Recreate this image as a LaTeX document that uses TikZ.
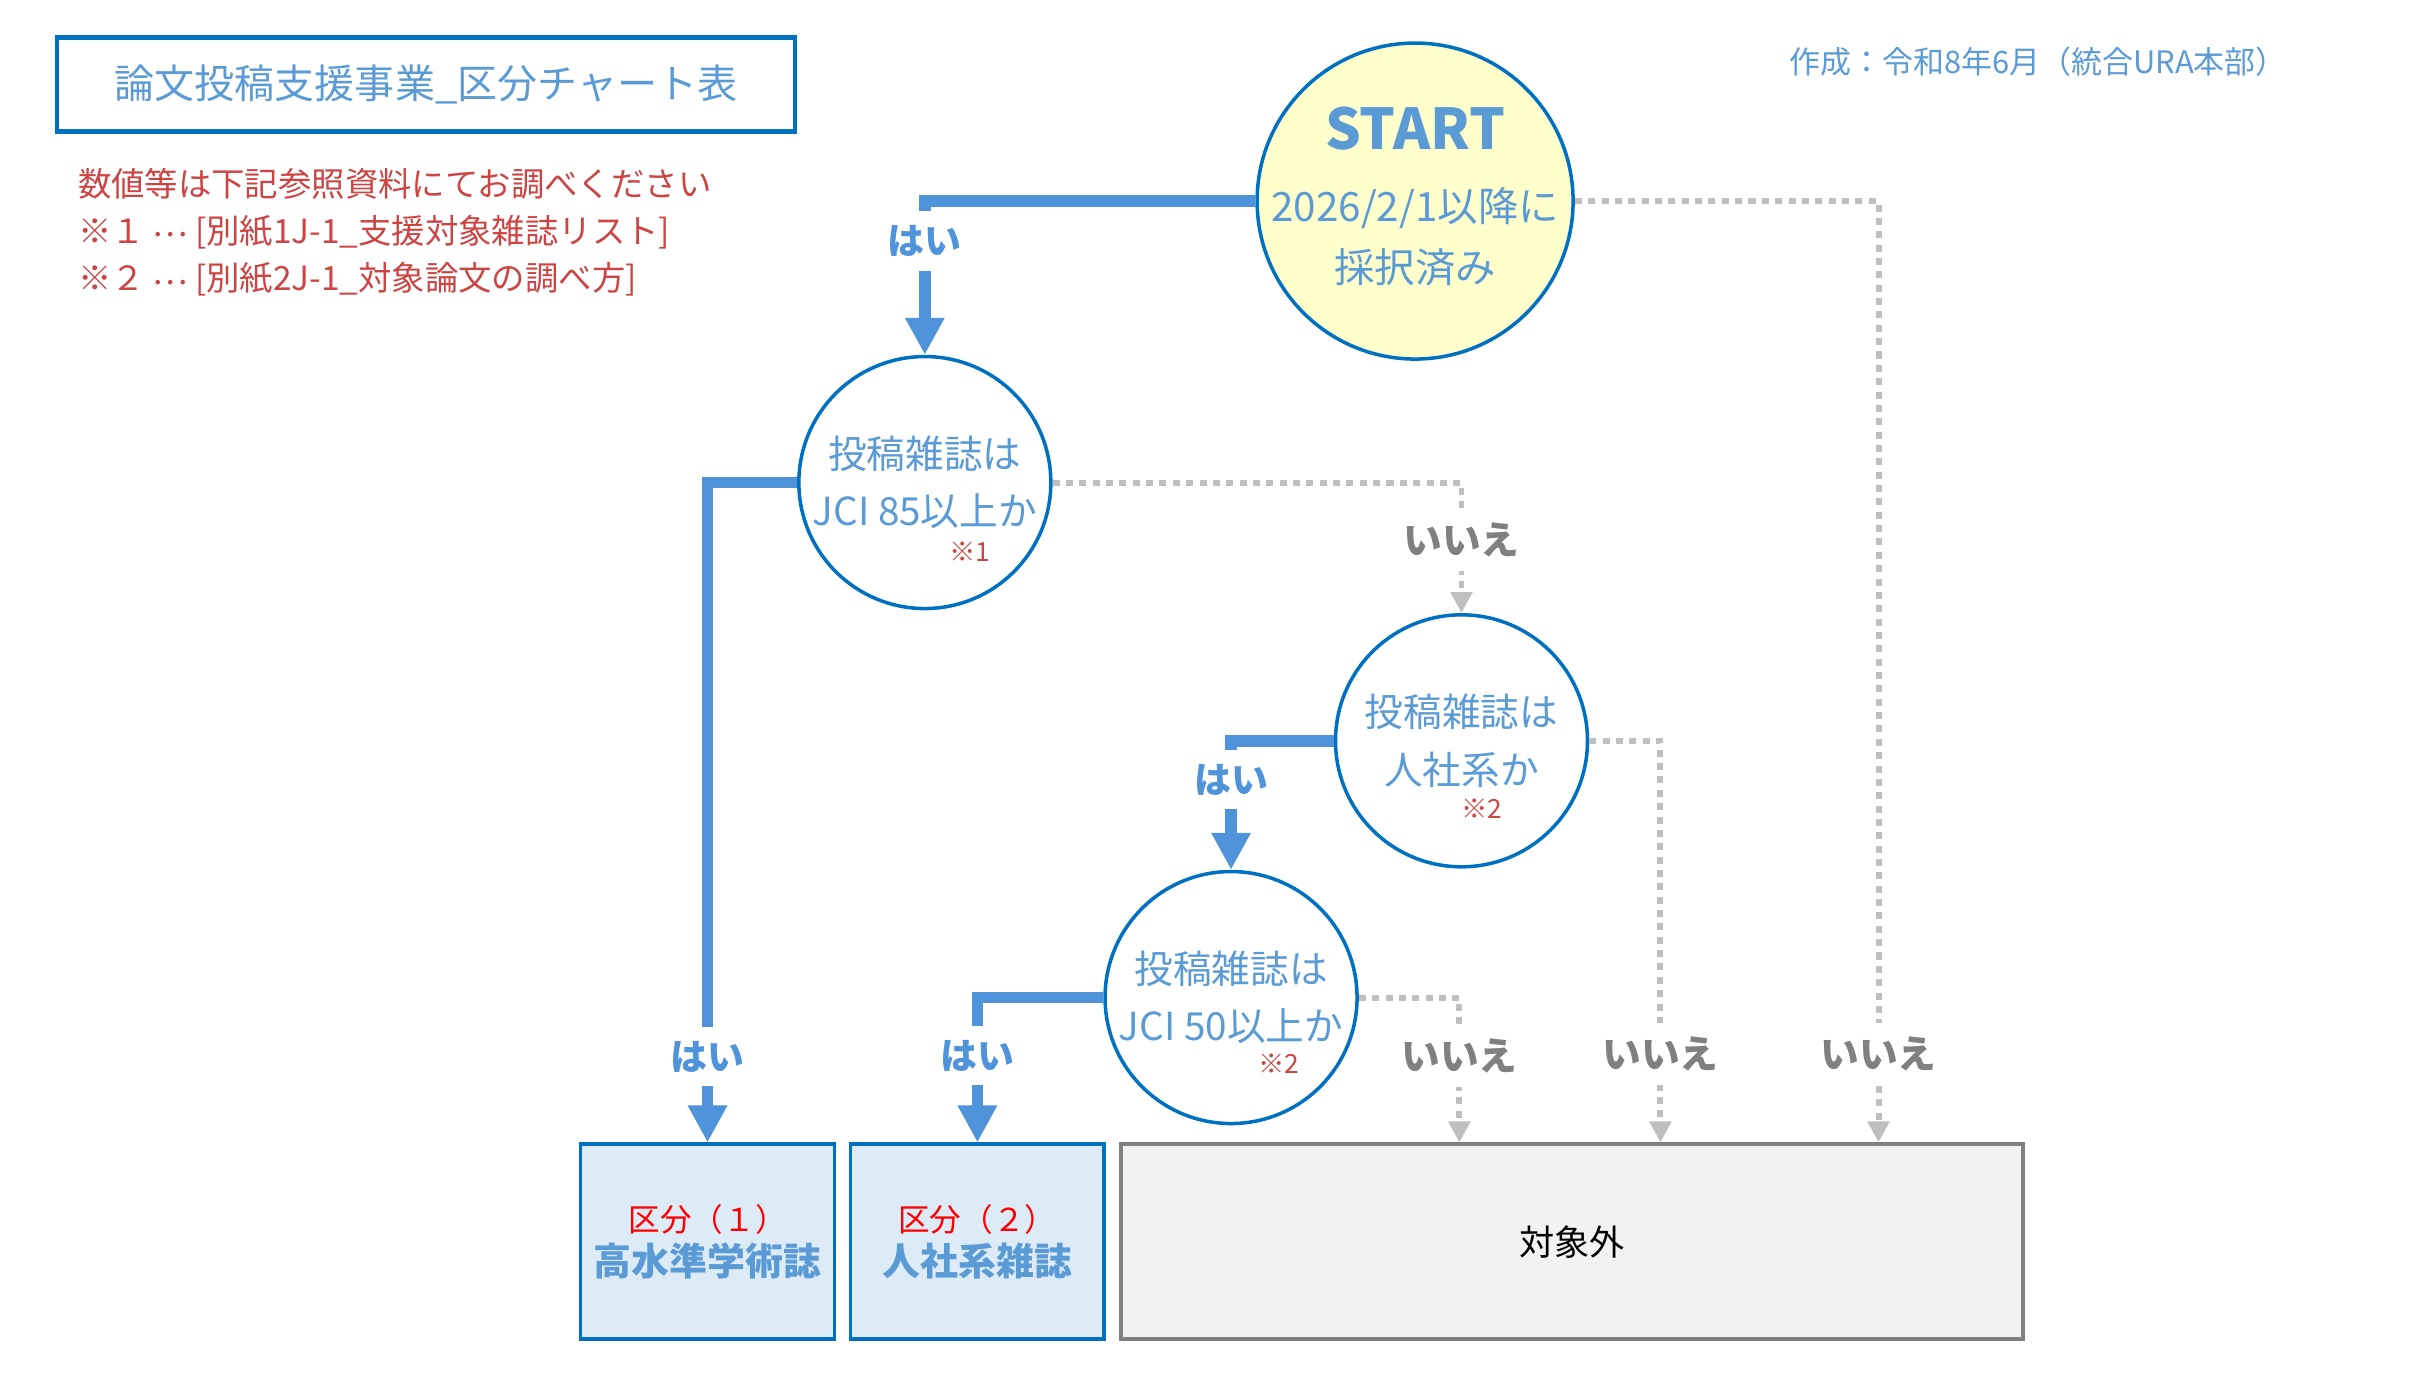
\documentclass[tikz,border=0pt]{standalone}
\usepackage{fontspec}
\setmainfont{Noto Sans CJK JP}
\usetikzlibrary{arrows.meta,calc}
\definecolor{txtblue}{RGB}{91,155,213}
\definecolor{lineblue}{RGB}{79,148,218}
\definecolor{rimblue}{RGB}{0,112,192}
\definecolor{notered}{RGB}{204,68,68}
\definecolor{nogray}{RGB}{191,191,191}
\definecolor{labgray}{RGB}{128,128,128}
\definecolor{startyel}{RGB}{255,255,204}
\definecolor{boxblue}{RGB}{221,235,247}
\definecolor{boxgray}{RGB}{242,242,242}
\begin{document}
\begin{tikzpicture}[x=0.15466mm,y=-0.15466mm,
  ask/.style={circle,draw=rimblue,line width=1pt,fill=white,minimum size=25.2mm,inner sep=0pt,text=txtblue,align=center,font=\fontsize{11}{16.3}\selectfont},
  res/.style={draw=rimblue,line width=1.1pt,fill=boxblue,minimum width=25.4mm,minimum height=19.5mm,align=center,font=\fontsize{9}{12.7}\selectfont},
  yes/.style={draw=lineblue,line width=3.3pt,-{Triangle[length=3.7mm,width=3.7mm]}},
  no/.style={draw=nogray,line width=1.7pt,dash pattern=on 2pt off 1.8pt,-{Triangle[length=2.1mm,width=2.1mm]}},
  yeslab/.style={fill=white,inner xsep=0pt,inner ysep=4pt,text=lineblue,font=\fontsize{10.5}{12}\selectfont\bfseries},
  nolab/.style={fill=white,inner xsep=0pt,inner ysep=4pt,text=labgray,font=\fontsize{11}{12}\selectfont\bfseries},
  refmark/.style={text=notered,font=\fontsize{7.5}{9}\selectfont}]
\useasboundingbox (0,0) rectangle (1568,899);
\node[draw=rimblue,line width=1.3pt,minimum width=73.8mm,minimum height=9.4mm,text=txtblue,font=\fontsize{11.4}{14}\selectfont] (title) at (275.5,54.5) {論文投稿支援事業\_区分チャート表};
\node[anchor=west,inner sep=0pt,align=left,text=notered,font=\fontsize{9.5}{13.4}\selectfont] (notes) at (50,150) {数値等は下記参照資料にてお調べください\\※１ \raisebox{0.35ex}{⋯} [別紙1J-1\_支援対象雑誌リスト]\\※２ \raisebox{0.35ex}{⋯} [別紙2J-1\_対象論文の調べ方]};
\node[anchor=east,inner sep=0pt,text=txtblue,font=\fontsize{8.8}{10}\selectfont] (made) at (1479,40) {作成：令和8年6月（統合URA本部）};
\node[ask,fill=startyel,minimum size=31.6mm] (start) at (915,130) {};
\node[text=txtblue,align=center,inner sep=0pt,font=\fontsize{11.5}{17.5}\selectfont] (starttxt) at (915,127) {{\fontsize{16}{17.5}\selectfont\bfseries START}\\[3pt]2026/2/1以降に\\採択済み};
\node[ask] (q1) at (598,312) {投稿雑誌は\\JCI 85以上か};
\node[ask] (q2) at (945,479) {投稿雑誌は\\人社系か};
\node[ask] (q3) at (796,645) {投稿雑誌は\\JCI 50以上か};
\node[refmark] (m1) at ([shift={(29,45)}]q1.center) {※1};
\node[refmark] (m2) at ([shift={(13,44)}]q2.center) {※2};
\node[refmark] (m3) at ([shift={(31,43)}]q3.center) {※2};
\node[res] (b1) at (457.5,803) {\textcolor{red}{区分（１）}\\{\fontsize{10.8}{12.7}\selectfont\bfseries\color{txtblue}高水準学術誌}};
\node[res] (b2) at (632,803) {\textcolor{red}{区分（２）}\\{\fontsize{10.8}{12.7}\selectfont\bfseries\color{txtblue}人社系雑誌}};
\node[res,draw=labgray,fill=boxgray,minimum width=90.2mm,font=\fontsize{10}{12}\selectfont] (b3) at (1016.5,803) {対象外};
\draw[yes] (start.west) -| node[yeslab,pos=0.63]{はい} (q1.north);
\draw[yes] (q1.west) -| node[yeslab,pos=0.935]{はい} (b1.north);
\draw[yes] (q2.west) -| node[yeslab,pos=0.65]{はい} (q3.north);
\draw[yes] (q3.west) -| node[yeslab,pos=0.70]{はい} (b2.north);
\draw[no] (start.east) -| node[nolab,pos=0.953]{いいえ} ($(b3.north west)+(491,0)$);
\draw[no] (q1.east) -| node[nolab,pos=0.72]{いいえ} (q2.north);
\draw[no] (q2.east) -| node[nolab,pos=0.89]{いいえ} ($(b3.north west)+(350,0)$);
\draw[no] (q3.east) -| node[nolab,pos=0.70]{いいえ} ($(b3.north west)+(220,0)$);
\end{tikzpicture}
\end{document}
